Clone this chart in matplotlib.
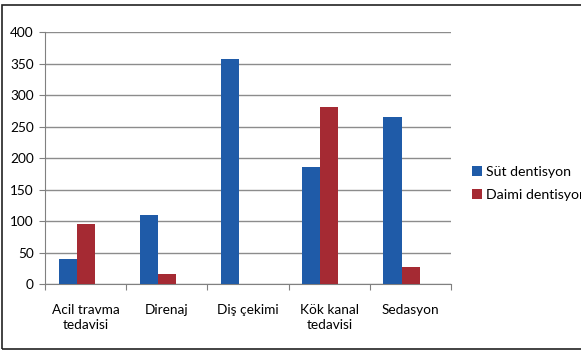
import numpy as np
import matplotlib
matplotlib.use('Agg')
import matplotlib.pyplot as plt
from matplotlib.patches import Rectangle

plt.rcParams['font.family'] = ['Lato', 'DejaVu Sans']

categories = ['Acil travma\ntedavisi', 'Direnaj', 'Diş çekimi', 'Kök kanal\ntedavisi', 'Sedasyon']
sut = [41, 110, 357, 187, 266]
daimi = [96, 17, 0, 282, 27]
series_names = ['Süt dentisyon', 'Daimi dentisyon']

fig = plt.figure(figsize=(5.81, 3.52), dpi=100)
ax = fig.add_axes([0.0775, 0.192, 0.699, 0.716])

x = np.arange(len(categories))
w = 1 / 4.5  # three series slots + 150% gap
ax.bar(x - w, sut, w, align='center', color='#1f5ba8', label=series_names[0], zorder=3)
ax.bar(x, daimi, w, align='center', color='#a52a33', label=series_names[1], zorder=3)

ax.set_xlim(-0.5, len(categories) - 0.5)
ax.set_ylim(0, 400)
ax.set_yticks(range(0, 401, 50))
ax.yaxis.grid(True, color='#8c8c8c', linewidth=1, zorder=0)

ax.set_xticks(np.arange(-0.5, len(categories), 1))
ax.set_xticklabels([])
ax.set_xticks(x, minor=True)
ax.set_xticklabels(categories, minor=True, fontsize=9.8, linespacing=1.35)
ax.tick_params(axis='x', which='minor', length=0, pad=14)
ax.tick_params(axis='x', which='major', length=4, color='#808080')
ax.tick_params(axis='y', length=4, color='#808080', labelsize=9.8, pad=4)

for s in ['top', 'right']:
    ax.spines[s].set_visible(False)
for s in ['left', 'bottom']:
    ax.spines[s].set_color('#808080')

ax.legend(loc='center left', bbox_to_anchor=(1.02, 0.40), frameon=False,
          fontsize=10.2, handlelength=0.7, handleheight=0.7, handletextpad=0.3,
          labelspacing=0.8)

fig.patches.append(Rectangle((2 / 581, 3 / 352), 1.1, 344 / 352, transform=fig.transFigure,
                             fill=False, edgecolor='#222222', linewidth=1.2, clip_on=False))

fig.savefig('out.png', dpi=100)
